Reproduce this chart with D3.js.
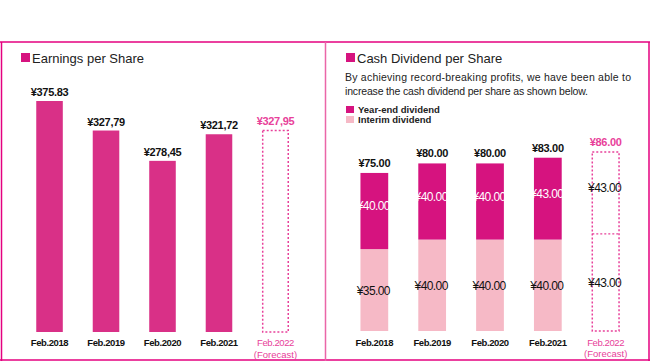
<!DOCTYPE html>
<html><head><meta charset="utf-8">
<script src="https://cdn.jsdelivr.net/npm/d3@7"></script>
<style>
body{margin:0;background:#fff;}
svg{display:block;font-family:"Liberation Sans",Arial,sans-serif;}
</style></head>
<body><svg id="c" width="650" height="361"></svg>
<script>
// ---- data ----
const years = ["Feb.2018","Feb.2019","Feb.2020","Feb.2021","Feb.2022"];
const epsValues = [375.83, 327.79, 278.45, 321.72, 327.95];
const epsLabels = ["¥375.83","¥327,79","¥278,45","¥321,72","¥327,95"];
const interimDiv = [35, 40, 40, 40, 43];
const yearEndDiv = [40, 40, 40, 43, 43];
const totalLabels = ["¥75.00","¥80.00","¥80.00","¥83.00","¥86.00"];
const forecastIndex = 4;
const fmtYen = v => "¥" + v.toFixed(2);

const PINK = "#e4007f", EPS = "#d93087", YE = "#d6137f", INT = "#f6b9c6", FC = "#e8419a";
const svg = d3.select("#c");

// panels frame
svg.append("line").attr("x1",0).attr("x2",650).attr("y1",42).attr("y2",42).attr("stroke",PINK).attr("stroke-width",1.5);
svg.append("line").attr("x1",0).attr("x2",650).attr("y1",360).attr("y2",360).attr("stroke",PINK).attr("stroke-width",1.5);
svg.append("line").attr("x1",1.5).attr("x2",1.5).attr("y1",42).attr("y2",361).attr("stroke",PINK).attr("stroke-width",1.5);
svg.append("line").attr("x1",325.5).attr("x2",325.5).attr("y1",42).attr("y2",361).attr("stroke","#ea66a8").attr("stroke-width",1.5);
svg.append("line").attr("x1",649).attr("x2",649).attr("y1",42).attr("y2",361).attr("stroke",PINK).attr("stroke-width",1.5);

// titles
function title(x, txt){
  svg.append("rect").attr("x",x).attr("y",53).attr("width",9).attr("height",9).attr("fill","#d6137f");
  svg.append("text").attr("x",x+11).attr("y",62.5).attr("font-size",13).attr("fill","#222").text(txt);
}
title(21, "Earnings per Share");
title(346, "Cash Dividend per Share");

// ---- left: EPS ----
const xL = d3.scaleBand().domain(years).range([21, 304]).paddingInner(0.53).paddingOuter(0.27);
const yL = d3.scaleLinear().domain([0, 375.83]).range([332, 101]);
const gL = svg.append("g");
years.forEach((yr,i)=>{
  const x = xL(yr), w = xL.bandwidth(), v = epsValues[i];
  if(i===forecastIndex){
    gL.append("rect").attr("x",x+0.5).attr("y",yL(v)).attr("width",w-1).attr("height",yL(0)-yL(v))
      .attr("fill","none").attr("stroke",FC).attr("stroke-width",1.5).attr("stroke-dasharray","2,2");
  } else {
    gL.append("rect").attr("x",x).attr("y",yL(v)).attr("width",w).attr("height",yL(0)-yL(v)).attr("fill",EPS);
  }
  gL.append("text").attr("x",x+w/2).attr("y",yL(v)-5).attr("text-anchor","middle")
    .attr("font-size",11).attr("font-weight","bold").attr("letter-spacing",-0.3)
    .attr("fill", i===forecastIndex?FC:"#111").text(epsLabels[i]);
});
const axL = svg.append("g").attr("transform","translate(0,332)")
  .call(d3.axisBottom(xL).tickSize(0).tickPadding(7));
axL.select(".domain").remove();
function styleAxis(ax){
  ax.selectAll("text").attr("font-size",9.5).attr("font-weight",d=>d===years[forecastIndex]?"normal":"bold").attr("letter-spacing",-0.4)
    .attr("font-family","'Liberation Sans',Arial,sans-serif")
    .attr("fill",(d)=> d===years[forecastIndex]?FC:"#111");
  ax.selectAll(".tick").filter(d=>d===years[forecastIndex]).append("text")
    .attr("y",19).attr("dy","0.71em").attr("text-anchor","middle").attr("font-size",9.5)
    .attr("font-family","'Liberation Sans',Arial,sans-serif").attr("fill",FC).text("(Forecast)");
}
styleAxis(axL);

// ---- right: dividends ----
svg.append("text").attr("x",345).attr("y",81).attr("font-size",10.5).attr("fill","#222")
  .attr("textLength",286).text("By achieving record-breaking profits, we have been able to");
svg.append("text").attr("x",345).attr("y",95).attr("font-size",10.5).attr("fill","#222")
  .attr("textLength",243).text("increase the cash dividend per share as shown below.");
const legend = [["Year-end dividend",YE],["Interim dividend",INT]];
legend.forEach((l,i)=>{
  svg.append("rect").attr("x",346).attr("y",106+i*10).attr("width",8).attr("height",7).attr("fill",l[1]);
  svg.append("text").attr("x",358).attr("y",113+i*10).attr("font-size",9.5).attr("font-weight","bold").attr("fill","#222").text(l[0]);
});

const xR = d3.scaleBand().domain(years).range([346, 634]).paddingInner(0.52).paddingOuter(0.25);
const yR = d3.scaleLinear().domain([-8, 86]).range([331, 152]);
const gR = svg.append("g");
years.forEach((yr,i)=>{
  const x = xR(yr), w = xR.bandwidth();
  const a = interimDiv[i], b = yearEndDiv[i], t = a + b;
  const cx = x + w/2;
  if(i===forecastIndex){
    gR.append("rect").attr("x",x+0.5).attr("y",yR(t)).attr("width",w-1).attr("height",yR(-8)-yR(t))
      .attr("fill","none").attr("stroke",FC).attr("stroke-width",1.5).attr("stroke-dasharray","2,2");
    gR.append("line").attr("x1",x+0.5).attr("x2",x+w-0.5).attr("y1",yR(a)).attr("y2",yR(a))
      .attr("stroke",FC).attr("stroke-width",1.2).attr("stroke-dasharray","2,2");
  } else {
    gR.append("rect").attr("x",x).attr("y",yR(a)).attr("width",w).attr("height",yR(-8)-yR(a)).attr("fill",INT);
    gR.append("rect").attr("x",x).attr("y",yR(t)).attr("width",w).attr("height",yR(a)-yR(t)).attr("fill",YE);
  }
  const fc = i===forecastIndex;
  gR.append("text").attr("x",cx).attr("y",yR(t)-6).attr("text-anchor","middle")
    .attr("font-size",11).attr("font-weight","bold").attr("letter-spacing",-0.3)
    .attr("fill", fc?FC:"#111").text(totalLabels[i]);
  gR.append("text").attr("x",cx-1).attr("y",(yR(t)+yR(a))/2-1).attr("text-anchor","middle")
    .attr("font-size",12).attr("letter-spacing",-0.6)
    .attr("fill", fc?"#111":"#fff").text(fmtYen(b));
  gR.append("text").attr("x",cx-1).attr("y",(yR(a)+yR(-8))/2+5).attr("text-anchor","middle")
    .attr("font-size",12).attr("letter-spacing",-0.6).attr("fill","#111").text(fmtYen(a));
});
const axR = svg.append("g").attr("transform","translate(0,331)")
  .call(d3.axisBottom(xR).tickSize(0).tickPadding(8));
axR.select(".domain").remove();
styleAxis(axR);
</script></body></html>
